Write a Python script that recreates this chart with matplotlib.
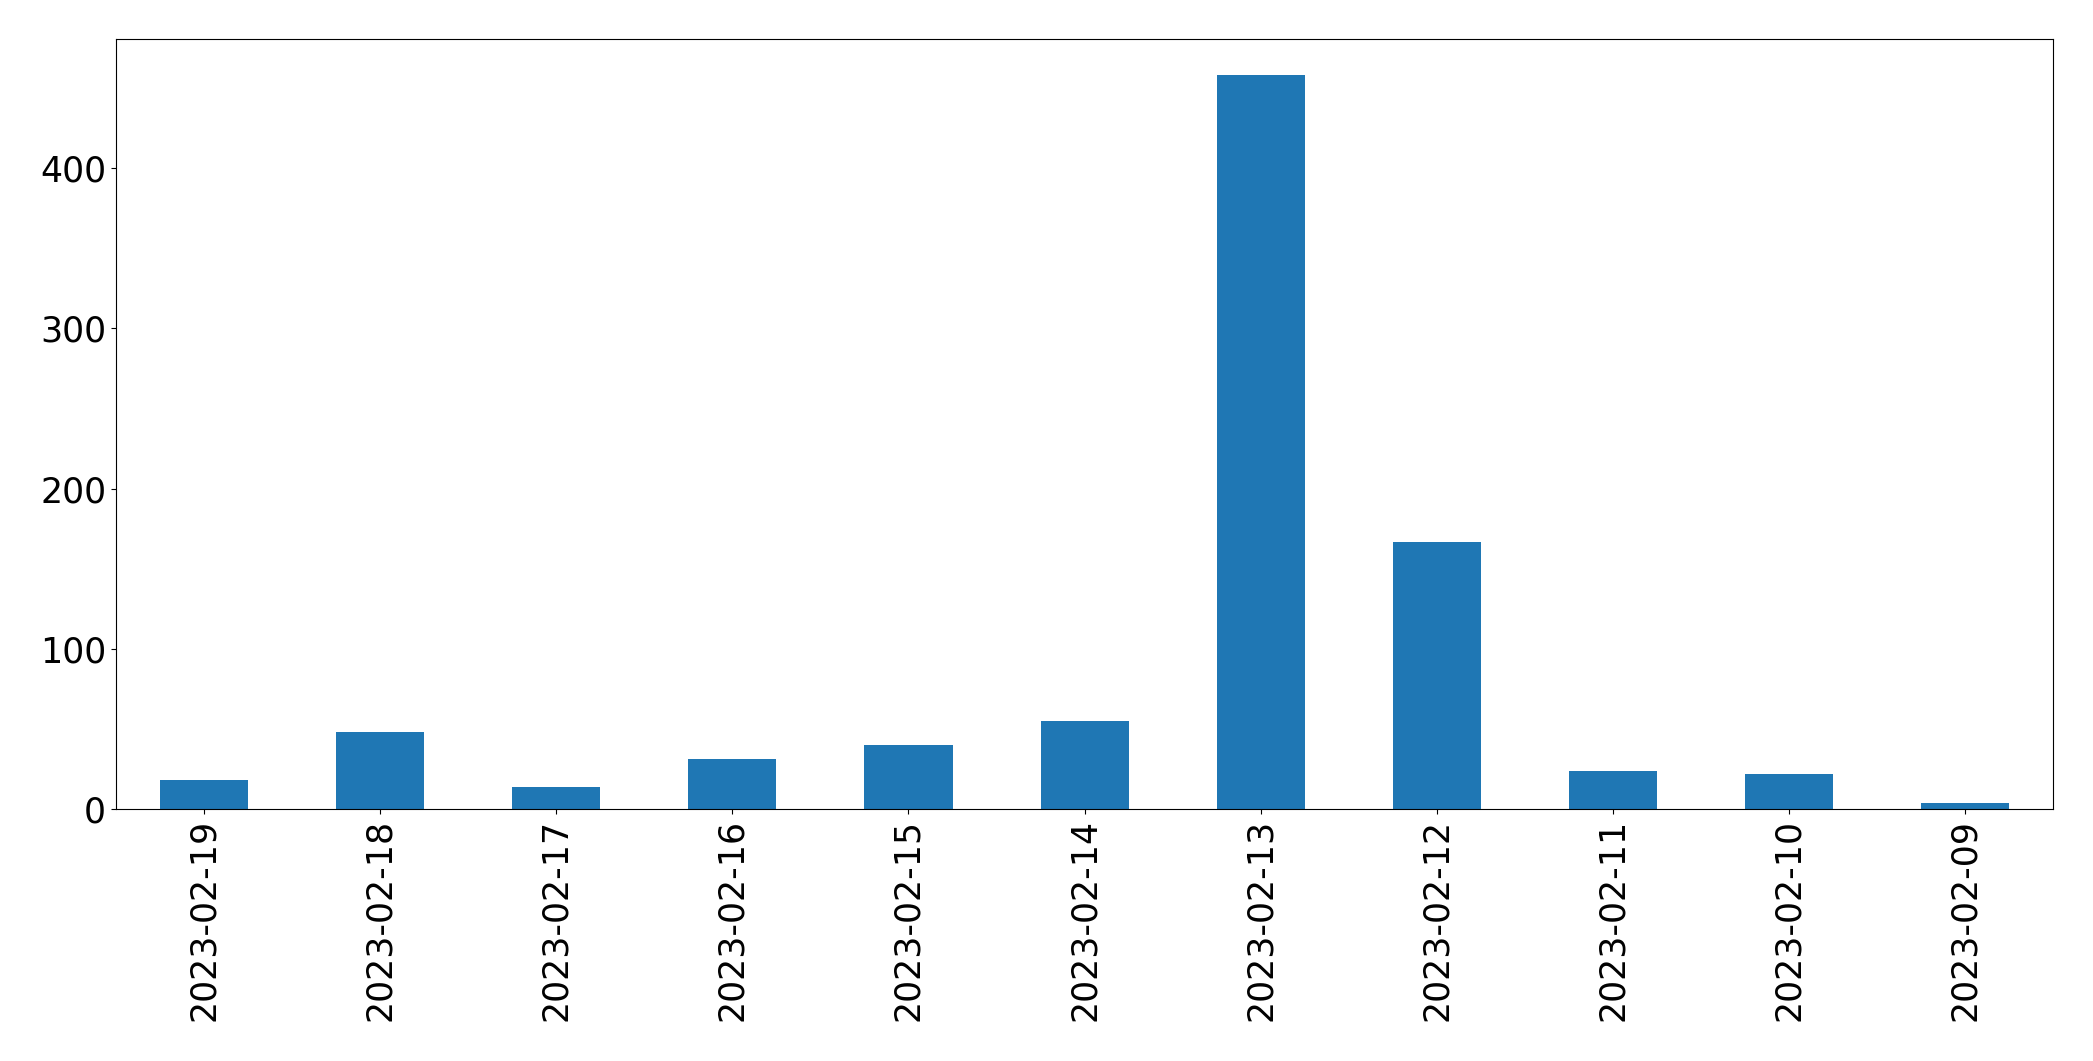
import matplotlib
matplotlib.use("Agg")
import matplotlib.pyplot as plt
import numpy as np

# daily counts, newest first
dates = ["2023-02-19", "2023-02-18", "2023-02-17", "2023-02-16", "2023-02-15",
         "2023-02-14", "2023-02-13", "2023-02-12", "2023-02-11", "2023-02-10",
         "2023-02-09"]
counts = [18, 48, 14, 31, 40, 55, 458, 167, 24, 22, 4]

plt.rc('xtick', labelsize=25)
plt.rc('ytick', labelsize=25)

fig, ax = plt.subplots(figsize=(20.93, 10.61), dpi=100)
fig.subplots_adjust(left=0.0554, right=0.981, top=0.9635, bottom=0.2375)

x = np.arange(len(dates))
ax.bar(x, counts, width=0.5, color="#1f77b4")
ax.set_xticks(x)
ax.set_xticklabels(dates, rotation=90)
ax.set_xlim(-0.5, len(dates) - 0.5)

plt.savefig("out.png", dpi=100)
